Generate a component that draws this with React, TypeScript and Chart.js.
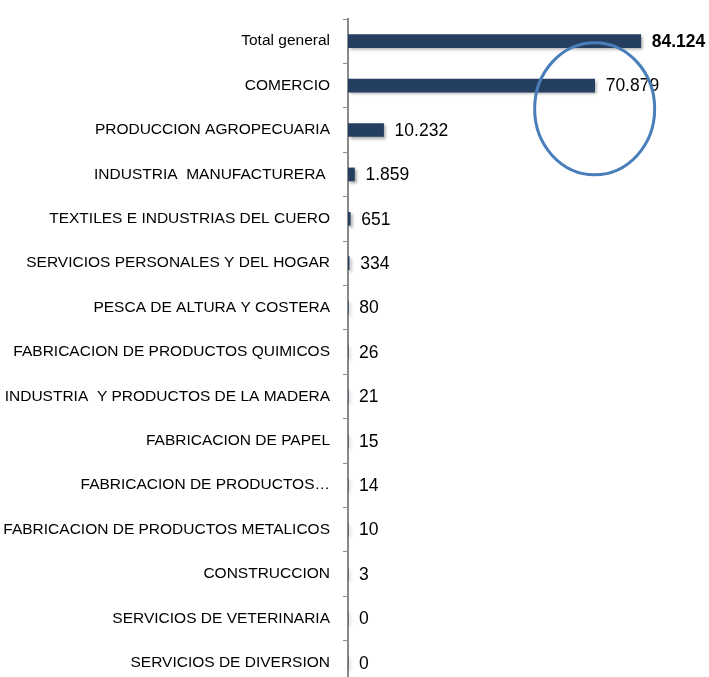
import { useEffect, useRef } from 'react';
import { Chart, registerables } from 'chart.js';

Chart.register(...registerables);

const categories = [
  'Total general',
  'COMERCIO',
  'PRODUCCION AGROPECUARIA',
  'INDUSTRIA  MANUFACTURERA ',
  'TEXTILES E INDUSTRIAS DEL CUERO',
  'SERVICIOS PERSONALES Y DEL HOGAR',
  'PESCA DE ALTURA Y COSTERA',
  'FABRICACION DE PRODUCTOS QUIMICOS',
  'INDUSTRIA  Y PRODUCTOS DE LA MADERA',
  'FABRICACION DE PAPEL',
  'FABRICACION DE PRODUCTOS…',
  'FABRICACION DE PRODUCTOS METALICOS',
  'CONSTRUCCION',
  'SERVICIOS DE VETERINARIA',
  'SERVICIOS DE DIVERSION',
];

const values = [84124, 70879, 10232, 1859, 651, 334, 80, 26, 21, 15, 14, 10, 3, 0, 0];

const highlightIndex = 1;

const FONT = "'Liberation Sans', Arial, sans-serif";

function fmt(v: number): string {
  return String(v).replace(/\B(?=(\d{3})+(?!\d))/g, '.');
}

const shadowPlugin = {
  id: 'barShadow',
  beforeDatasetsDraw(chart: any) {
    const c = chart.ctx;
    c.save();
    c.shadowColor = 'rgba(0,0,0,0.35)';
    c.shadowBlur = 3;
    c.shadowOffsetX = 2;
    c.shadowOffsetY = 2;
  },
  afterDatasetsDraw(chart: any) {
    chart.ctx.restore();
  },
};

const labelPlugin = {
  id: 'valueLabels',
  afterDatasetsDraw(chart: any) {
    const c = chart.ctx;
    const meta = chart.getDatasetMeta(0);
    c.save();
    c.fillStyle = '#000000';
    c.textAlign = 'left';
    c.textBaseline = 'middle';
    meta.data.forEach((el: any, i: number) => {
      c.font = (i === 0 ? 'bold 17.5px ' : '17.5px ') + FONT;
      c.fillText(fmt(values[i]), el.x + 11, el.y + 1);
    });
    c.restore();
  },
};

const ellipsePlugin = {
  id: 'ellipseMark',
  afterDraw(chart: any) {
    const c = chart.ctx;
    const xs = chart.scales.x;
    const ys = chart.scales.y;
    const cx = xs.getPixelForValue(values[highlightIndex]);
    const cy = (ys.getPixelForValue(highlightIndex) + ys.getPixelForValue(highlightIndex + 1)) / 2 + 1;
    c.save();
    c.strokeStyle = '#4A7EBB';
    c.lineWidth = 3;
    c.beginPath();
    c.ellipse(cx, cy, 60, 66, 0, 0, Math.PI * 2);
    c.stroke();
    c.restore();
  },
};

export default function App() {
  const ref = useRef<HTMLCanvasElement | null>(null);

  useEffect(() => {
    if (!ref.current) return;
    const chart = new Chart(ref.current, {
      type: 'bar',
      data: {
        labels: categories,
        datasets: [
          {
            data: values,
            backgroundColor: '#243F60',
            borderWidth: 0,
            barThickness: 13,
          },
        ],
      },
      options: {
        indexAxis: 'y',
        animation: false,
        responsive: false,
        maintainAspectRatio: false,
        layout: { padding: { top: 19, bottom: 5, right: 13, left: 0 } },
        plugins: {
          legend: { display: false },
          tooltip: { enabled: false },
          title: { display: false },
        },
        scales: {
          x: {
            display: false,
            min: 0,
            max: 100000,
          },
          y: {
            z: 1,
            afterFit(scale: any) {
              scale.width = 348;
              scale.paddingTop = 0;
              scale.paddingBottom = 0;
            },
            border: { display: true, color: '#8A8A8A', width: 2 },
            grid: {
              display: true,
              drawOnChartArea: false,
              drawTicks: true,
              tickLength: 5,
              tickColor: '#8A8A8A',
              offset: true,
            },
            ticks: {
              padding: 13,
              color: '#000000',
              autoSkip: false,
              font: { family: FONT, size: 15.5 },
            },
          },
        },
      },
      plugins: [shadowPlugin, labelPlugin, ellipsePlugin],
    });
    return () => chart.destroy();
  }, []);

  return (
    <div
      style={{
        position: 'absolute',
        left: 0,
        top: 0,
        width: 709,
        height: 677,
        overflow: 'hidden',
        background: '#ffffff',
      }}
    >
      <canvas ref={ref} width={709} height={690} style={{ display: 'block', width: 709, height: 690 }} />
    </div>
  );
}
